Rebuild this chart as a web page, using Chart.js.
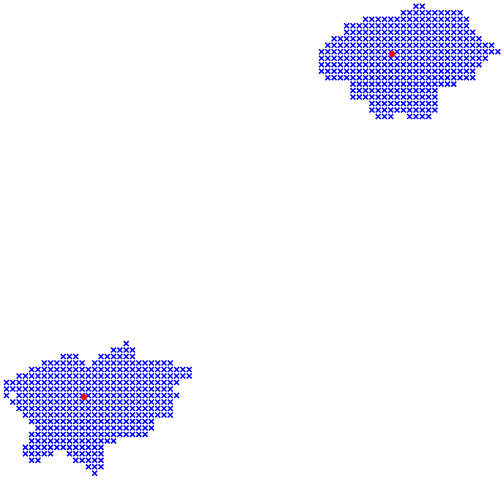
<!DOCTYPE html>
<html>
<head>
<meta charset="utf-8">
<script src="https://cdn.jsdelivr.net/npm/chart.js@4.4.1/dist/chart.umd.min.js"></script>
<style>
html,body{margin:0;padding:0;background:#fff;}
#wrap{width:504px;height:480px;}
</style>
</head>
<body>
<div id="wrap"><canvas id="c" width="504" height="480"></canvas></div>
<script>
// Grid rows (row index from the top) and the grid columns occupied in each row
const topRows = [0,1,2,3,4,5,6,7,8,9,10,11,12,13,14,15,16,17];
const topCols = [
  [65,66],
  [63,64,65,66,67,68,69,70,71,72],
  [57,58,59,60,61,62,63,64,65,66,67,68,69,70,71,72,73],
  [54,55,56,57,58,59,60,61,62,63,64,65,66,67,68,69,70,71,72,73],
  [54,55,56,57,58,59,60,61,62,63,64,65,66,67,68,69,70,71,72,73,74],
  [52,53,54,55,56,57,58,59,60,61,62,63,64,65,66,67,68,69,70,71,72,73,74,75],
  [51,52,53,54,55,56,57,58,59,60,61,62,63,64,65,66,67,68,69,70,71,72,73,74,75,76,77],
  [50,51,52,53,54,55,56,57,58,59,60,61,62,63,64,65,66,67,68,69,70,71,72,73,74,75,76,77,78],
  [50,51,52,53,54,55,56,57,58,59,60,61,62,63,64,65,66,67,68,69,70,71,72,73,74,75,76],
  [50,51,52,53,54,55,56,57,58,59,60,61,62,63,64,65,66,67,68,69,70,71,72,73,74,75],
  [50,51,52,53,54,55,56,57,58,59,60,61,62,63,64,65,66,67,68,69,70,71,72,73,74],
  [51,52,53,54,55,56,57,58,59,60,61,62,63,64,65,66,67,68,69,70,71,72,73,74],
  [55,56,57,58,59,60,61,62,63,64,65,66,67,68,69,70,71],
  [55,56,57,58,59,60,61,62,63,64,65,66,67,68],
  [55,56,57,58,59,60,61,62,63,64,65,66,67,68],
  [58,59,60,61,62,63,64,65,66,67,68],
  [58,59,60,61,62,63,64,65,66,67,68],
  [59,60,61,64,65,66,67]
];
const bottomRows = [52,53,54,55,56,57,58,59,60,61,62,63,64,65,66,67,68,69,70,71,72];
const bottomCols = [
  [19],
  [17,18,19,20],
  [9,10,11,15,16,17,18,19,20],
  [6,7,8,9,10,11,12,14,15,16,17,18,19,20,21,22,23,24,25,26],
  [4,5,6,7,8,9,10,11,12,13,14,15,16,17,18,19,20,21,22,23,24,25,26,27,28,29],
  [2,3,4,5,6,7,8,9,10,11,12,13,14,15,16,17,18,19,20,21,22,23,24,25,26,27,28,29],
  [0,1,2,3,4,5,6,7,8,9,10,11,12,13,14,15,16,17,18,19,20,21,22,23,24,25,26,27],
  [0,1,2,3,4,5,6,7,8,9,10,11,12,13,14,15,16,17,18,19,20,21,22,23,24,25,26],
  [0,2,3,4,5,6,7,8,9,10,11,12,13,14,15,16,17,18,19,20,21,22,23,24,25,26,27],
  [1,2,3,4,5,6,7,8,9,10,11,12,13,14,15,16,17,18,19,20,21,22,23,24,25,26],
  [2,3,4,5,6,7,8,9,10,11,12,13,14,15,16,17,18,19,20,21,22,23,24,25,26],
  [3,4,5,6,7,8,9,10,11,12,13,14,15,16,17,18,19,20,21,22,23,24,25,26],
  [4,5,6,7,8,9,10,11,12,13,14,15,16,17,18,19,20,21,22,23],
  [5,6,7,8,9,10,11,12,13,14,15,16,17,18,19,20,21,22,23],
  [4,5,6,7,8,9,10,11,12,13,14,15,16,17,18,19,20,21,22],
  [4,5,6,7,8,9,10,11,12,13,14,15,16,17],
  [3,4,5,6,7,8,9,10,11,12,13,14,15],
  [3,4,5,6,7,10,11,12,13,14,15],
  [4,5,11,12,13,14,15],
  [13,14,15],
  [14]
];
// Cluster centres (column, row)
const centerX = [61.2, 12.3];
const centerY = [7.35, 60.25];

function buildPoints(rows, cols) {
  const pts = [];
  rows.forEach((r, i) => cols[i].forEach(c => pts.push({x: c, y: r})));
  return pts;
}
const gridPoints = buildPoints(topRows, topCols).concat(buildPoints(bottomRows, bottomCols));
const centerPoints = centerX.map((x, i) => ({x: x, y: centerY[i]}));

new Chart(document.getElementById('c'), {
  type: 'scatter',
  data: {
    datasets: [
      {
        label: 'centres',
        data: centerPoints,
        pointStyle: 'circle',
        pointRadius: 3,
        pointBackgroundColor: '#ff0000',
        pointBorderColor: '#ff0000',
        pointBorderWidth: 0,
        clip: false
      },
      {
        label: 'points',
        data: gridPoints,
        pointStyle: 'crossRot',
        pointRadius: 3.5,
        pointBorderColor: '#0000ff',
        pointBackgroundColor: '#0000ff',
        pointBorderWidth: 1.5,
        clip: false
      }
    ]
  },
  options: {
    responsive: false,
    animation: false,
    devicePixelRatio: 1,
    layout: {padding: 0, autoPadding: false},
    plugins: {legend: {display: false}, tooltip: {enabled: false}},
    scales: {
      x: {type: 'linear', display: false, min: -1.03, max: 78.97},
      y: {type: 'linear', display: false, reverse: true, min: -0.97, max: 73.03}
    }
  }
});
</script>
</body>
</html>
